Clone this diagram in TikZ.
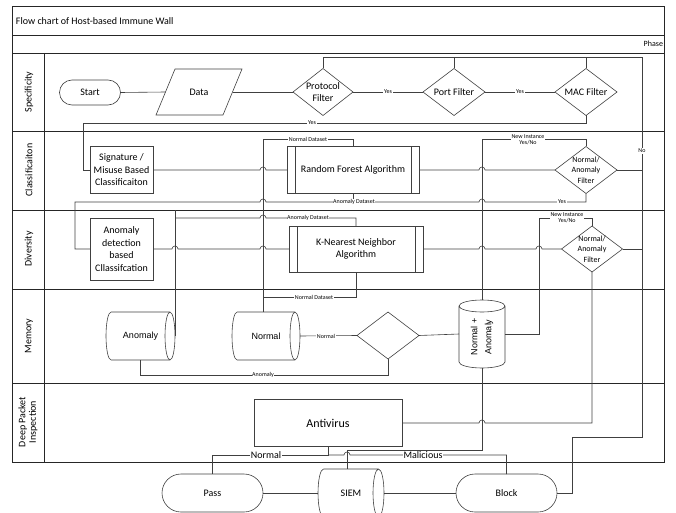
\documentclass[tikz,border=0pt]{standalone}
\usepackage{fontspec}
\setmainfont{Carlito}
\newfontfamily\arialf{Liberation Sans}
\usetikzlibrary{shapes.geometric,calc}
\newcommand\myhcyl[3]{% name, cap x radius, half height
  \draw[ln] ([xshift=#2pt]#1.north west) -- ([xshift=-#2pt]#1.north east)
    ([xshift=#2pt]#1.south west) -- ([xshift=-#2pt]#1.south east)
    ([xshift=#2pt]#1.north west) arc[start angle=90,end angle=270,x radius=#2pt,y radius=#3pt]
    ([xshift=-#2pt]#1.east) ellipse[x radius=#2pt,y radius=#3pt];}
\newcommand\myvcyl[3]{% name, cap y radius, half width
  \draw[ln] ([yshift=-#2pt]#1.north west) -- ([yshift=#2pt]#1.south west)
    ([yshift=-#2pt]#1.north east) -- ([yshift=#2pt]#1.south east)
    ([yshift=#2pt]#1.south west) arc[start angle=180,end angle=360,x radius=#3pt,y radius=#2pt]
    ([yshift=-#2pt]#1.north) ellipse[x radius=#3pt,y radius=#2pt];}
\begin{document}
\begin{tikzpicture}[x=1pt,y=-1pt,
  ln/.style={draw=black!75, line width=0.6pt},
  every node/.style={inner sep=0pt, outer sep=0pt},
  box/.style={draw=black!75, line width=0.6pt, rectangle, align=center, font=\fontsize{10}{12.5}\selectfont},
  termbox/.style={draw=black!75, line width=0.6pt, rectangle, font=\fontsize{10}{12}\selectfont},
  dia/.style={draw=black!75, line width=0.6pt, diamond},
  ghost/.style={draw=none, rectangle},
  dtxt/.style={align=center, font=\fontsize{10}{12}\selectfont},
  ftxt/.style={align=center, font=\fontsize{8}{10.5}\selectfont},
  lbl/.style={fill=white, font=\fontsize{6}{6.5}\selectfont, inner sep=0.6pt, align=center},
  biglbl/.style={fill=white, font=\fontsize{10}{12}\selectfont, inner sep=0.8pt},
  lanetxt/.style={rotate=90, font=\fontsize{10}{10.5}\selectfont, align=center},
  cyltxt/.style={font=\arialf\fontsize{9}{14}\selectfont, align=center},
]
\useasboundingbox (0,0) rectangle (676,513);
% frame and lanes
\draw[ln, draw=black!85] (12,6) rectangle (664,462);
\draw[ln, draw=black!85] (12,35) -- (664,35);
\draw[ln, draw=black!85] (12,53) -- (664,53);
\draw[ln, draw=black!85] (12,131) -- (664,131);
\draw[ln, draw=black!85] (12,210) -- (664,210);
\draw[ln, draw=black!85] (12,289) -- (664,289);
\draw[ln, draw=black!85] (12,383) -- (664,383);
\draw[ln, draw=black!85] (44,53) -- (44,462);
\node[anchor=west, font=\fontsize{10}{12}\selectfont] (title) at (16,21) {Flow chart of Host-based Immune Wall};
\node[anchor=east, font=\fontsize{8}{9}\selectfont] (phase) at (663,44) {Phase};
\node[lanetxt] (l1) at (29,92) {Specificity};
\node[lanetxt] (l2) at (29,170) {Classificaiton};
\node[lanetxt] (l3) at (29,249) {Diversity};
\node[lanetxt] (l4) at (29,336) {Memory};
\node[lanetxt] (l5) at (28,422) {Deep Packet\\Inspection};

% Specificity
\node[termbox, rounded corners=12.5pt, minimum width=61pt, minimum height=25pt] (start) at (90,92.5) {Start};
\node[ghost, minimum width=67pt, minimum height=46pt, font=\fontsize{10}{12}\selectfont] (data) at (199,92) {Data};
\draw[ln] ([xshift=-9.5pt]data.south west) -- ([xshift=9.5pt]data.north west) -- ([xshift=9.5pt]data.north east) -- ([xshift=-9.5pt]data.south east) -- cycle;
\node[dia, minimum width=60pt, minimum height=47pt] (pf) at (323,92) {};
\node[dtxt] (pft) at (pf) {Protocol\\Filter};
\node[dia, minimum width=62pt, minimum height=47pt] (port) at (454,92) {};
\node[dtxt] (portt) at (port) {Port Filter};
\node[dia, minimum width=62pt, minimum height=47pt] (mac) at (586,92) {};
\node[dtxt] (mact) at (mac) {MAC Filter};

% Classification
\node[box, minimum width=63pt, minimum height=47pt] (sig) at (121.5,170) {Signature /\\Misuse Based\\Classificaiton};
\node[box, minimum width=132pt, minimum height=47pt] (rf) at (353,170) {Random Forest Algorithm};
\draw[ln] ([xshift=8pt]rf.north west) -- ([xshift=8pt]rf.south west);
\draw[ln] ([xshift=-8pt]rf.north east) -- ([xshift=-8pt]rf.south east);
\node[dia, minimum width=62pt, minimum height=47pt] (cf) at (586,170) {};
\node[ftxt] (cft) at (cf) {Normal/\\Anomaly\\Filter};

% Diversity
\node[box, minimum width=63pt, minimum height=62pt] (ad) at (121.5,249) {Anomaly\\detection\\based\\Cllassifcation};
\node[box, minimum width=134pt, minimum height=46pt] (knn) at (356,249) {K-Nearest Neighbor\\Algorithm};
\draw[ln] ([xshift=8pt]knn.north west) -- ([xshift=8pt]knn.south west);
\draw[ln] ([xshift=-8pt]knn.north east) -- ([xshift=-8pt]knn.south east);
\node[dia, minimum width=61pt, minimum height=46pt] (df) at (592,249) {};
\node[ftxt] (dft) at (df) {Normal/\\Anomaly\\Filter};

% Memory
\node[ghost, minimum width=69pt, minimum height=48pt, cyltxt] (acyl) at (140.5,336) {Anomaly};
\myhcyl{acyl}{5}{24}
\node[ghost, minimum width=68pt, minimum height=48pt, cyltxt] (ncyl) at (266,336) {Normal};
\myhcyl{ncyl}{5}{24}
\node[dia, minimum width=62pt, minimum height=47pt] (md) at (388,335.5) {};
\node[ghost, minimum width=46pt, minimum height=68pt] (nacyl) at (482,334) {};
\myvcyl{nacyl}{6}{23}
\node[cyltxt, rotate=90] (nat) at (482,337) {Normal +\\Anomaly};

% Deep packet inspection and outcomes
\node[box, minimum width=148pt, minimum height=47pt, font=\fontsize{12}{14}\selectfont] (av) at (328,423) {Antivirus};
\node[termbox, rounded corners=19pt, minimum width=101pt, minimum height=38pt] (pass) at (212.5,493) {Pass};
\node[ghost, minimum width=66pt, minimum height=48pt, font=\fontsize{10}{12}\selectfont] (siem) at (351,493) {SIEM};
\myhcyl{siem}{5.5}{24}
\node[termbox, rounded corners=19pt, minimum width=101pt, minimum height=38pt] (blk) at (506.5,493) {Block};

% coordinates
\coordinate (topR) at (642,57);
\coordinate (noB) at (642,437);
\coordinate (blkT) at (572,437);
\coordinate (yesL) at (83,123);
\coordinate (nd1) at (263,139);
\coordinate (nd2) at (263,297);
\coordinate (ad1) at (75,202);
\coordinate (ad2) at (175,218);
\coordinate (adtop) at (175,210);
\coordinate (ni1) at (482,139);
\coordinate (ni2) at (539,218);
\coordinate (an1) at (388,375);
\coordinate (s1) at (347,450);
\coordinate (nm) at (328,455);

% Specificity connectors
\draw[ln] (start.east) -- (data.west);
\draw[ln] (data.east) -- (pf.west);
\draw[ln] (pf.east) -- (port.west);
\draw[ln] (port.east) -- (mac.west);
\draw[ln] (pf.north) -- (pf.north |- topR) -- (topR) -- (noB) -- (blkT) -- (blkT |- blk.east) -- (blk.east);
\draw[ln] (port.north) -- (port.north |- topR);
\draw[ln] (mac.north) -- (mac.north |- topR);
\draw[ln] (mac.south) -- (mac.south |- yesL) -- (yesL) -- (yesL |- sig.west) -- (sig.west);

% Classification connectors
\draw[ln] (sig.east) -- (260,170) arc[start angle=180,end angle=0,radius=3pt] -- (rf.west);
\draw[ln] (rf.east) -- (479,170) arc[start angle=180,end angle=0,radius=3pt] -- (cf.west);
\draw[ln] (cf.east) -- (cf.east -| topR);
\draw[ln] (ncyl.north -| nd1) -- (nd1) -- (nd1 -| rf.north) -- (rf.north);
\draw[ln] (nd2) -- (nd2 -| knn.south) -- (knn.south);
\draw[ln] (ad.west) -- (ad.west -| ad1) -- (ad1) -- (260,202) arc[start angle=180,end angle=0,radius=3pt] -- (479,202) arc[start angle=180,end angle=0,radius=3pt] -- (ad1 -| cf.south) -- (cf.south);
\draw[ln] (rf.south) -- (rf.south |- ad1);
\draw[ln] (nacyl.north) -- (nacyl.north |- ni1) -- (ni1 -| cf.north) -- (cf.north);

% Diversity connectors
\draw[ln] (acyl.east) -- (acyl.east |- adtop);
\draw[ln] (acyl.east |- ad2) -- (260,218) arc[start angle=180,end angle=0,radius=3pt] -- (ad2 -| knn.north) -- (knn.north);
\draw[ln] (ad.east) -- (172,249) arc[start angle=180,end angle=0,radius=3pt] -- (260,249) arc[start angle=180,end angle=0,radius=3pt] -- (knn.west);
\draw[ln] (knn.east) -- (479,249) arc[start angle=180,end angle=0,radius=3pt] -- (536,249) arc[start angle=180,end angle=0,radius=3pt] -- (df.west);
\draw[ln] (df.east) -- (df.east -| topR);
\draw[ln] (nacyl.east) -- (nacyl.east -| ni2) -- (ni2) -- (ni2 -| df.north) -- (df.north);

% Memory connectors
\draw[ln] (ncyl.east) -- (md.west);
\draw[ln] (md.east) -- (nacyl.west);
\draw[ln] (md.south) -- (md.south |- an1) -- (an1 -| acyl.south) -- (acyl.south);

% DPI connectors
\draw[ln] (nacyl.south) -- (nacyl.south |- s1) -- (s1) -- (s1 |- siem.north);
\draw[ln] (av.east) -- (479,423) arc[start angle=180,end angle=0,radius=3pt] -- (df.south |- av.east) -- (df.south);
\draw[ln] (av.south) -- (nm) -- (nm -| pass.north) -- (pass.north);
\draw[ln] (nm) -- (344,455) arc[start angle=180,end angle=0,radius=3pt] -- (nm -| blk.north) -- (blk.north);
\draw[ln] (pass.east) -- (siem.west);
\draw[ln] (siem.east) -- (blk.west);

% labels
\node[lbl] (y1) at (388,92) {Yes};
\node[lbl] (y2) at (520,92) {Yes};
\node[lbl] (y3) at (312,123) {Yes};
\node[lbl] (no) at (642,151) {No};
\node[lbl] (ndl1) at (308,139) {Normal Dataset};
\node[lbl] (nil1) at (528,139.5) {New Instance\\Yes/No};
\node[lbl] (adl1) at (354,202) {Anomaly Dataset};
\node[lbl] (y4) at (562,202) {Yes};
\node[lbl] (adl2) at (308,218) {Anomaly Dataset};
\node[lbl] (nil2) at (567,217.5) {New Instance\\Yes/No};
\node[lbl] (ndl2) at (314,297) {Normal Dataset};
\node[lbl] (nml) at (326,336) {Normal};
\node[lbl] (anl) at (263,375) {Anomaly};
\node[biglbl] (nrm) at (266,455) {Normal};
\node[biglbl] (mal) at (423,455) {Malicious};
\end{tikzpicture}
\end{document}
